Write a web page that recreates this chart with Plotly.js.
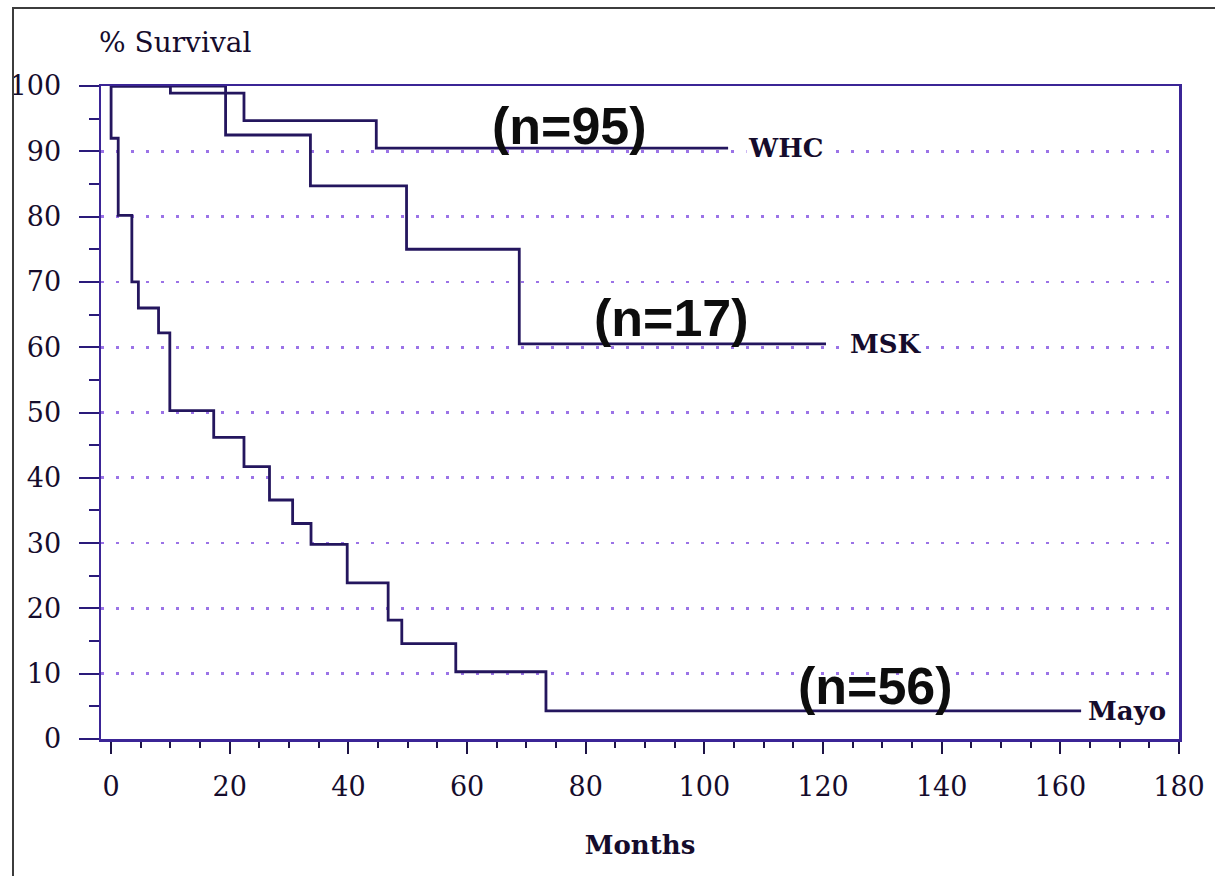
<!DOCTYPE html>
<html>
<head>
<meta charset="utf-8">
<script src="https://cdn.plot.ly/plotly-3.0.1.min.js"></script>
<style>
  html, body { margin: 0; padding: 0; background: #fff; }
  #chart { width: 1215px; height: 876px; }
  #frame { position: absolute; left: 12px; top: 7px; width: 1400px; height: 1000px;
           border-left: 2px solid #3c3c3c; border-top: 2px solid #3c3c3c; pointer-events: none; }
</style>
</head>
<body>
<div id="chart"></div>
<div id="frame"></div>
<script>
// ---- data ----
const whcMonths  = [0, 10, 22.4, 44.7, 104];
const whcSurv    = [100, 98.9, 94.7, 90.5, 90.5];

const mskMonths  = [0, 19.3, 33.6, 49.8, 68.8, 120.5];
const mskSurv    = [100, 92.5, 84.7, 75.0, 60.5, 60.5];

const mayoMonths = [0, 0, 1.2, 3.5, 4.6, 8.0, 9.9, 17.3, 22.4, 26.7, 30.6, 33.7, 39.8, 46.7, 49.0, 58.1, 73.3, 163.5];
const mayoSurv   = [100, 92, 80.2, 70.0, 66.0, 62.2, 50.3, 46.2, 41.7, 36.6, 33.0, 29.8, 23.9, 18.2, 14.6, 10.3, 4.3, 4.3];

const seriesNames  = ['WHC', 'MSK', 'Mayo'];
const seriesCounts = ['(n=95)', '(n=17)', '(n=56)'];
const nameLabelX   = [107, 124.2, 164.3];
const nameLabelY   = [90.5, 60.5, 4.3];
const countLabelX  = [77.3, 94.5, 128.9];
const countLabelY  = [93.9, 64.5, 8.1];

const xTickVals = [0, 20, 40, 60, 80, 100, 120, 140, 160, 180];
const yTickVals = [0, 10, 20, 30, 40, 50, 60, 70, 80, 90, 100];

// ---- styling ----
const curveColor = '#24165e';
const axisColor  = '#3b2596';
const textColor  = '#150c2c';
const serif = 'DejaVu Serif, Liberation Serif, serif';

function curve(x, y, name) {
  return { x: x, y: y, name: name, type: 'scatter', mode: 'lines',
           line: { shape: 'hv', color: curveColor, width: 2.8 },
           hoverinfo: 'x+y+name', showlegend: false };
}

const traces = [
  curve(whcMonths, whcSurv, seriesNames[0]),
  curve(mskMonths, mskSurv, seriesNames[1]),
  curve(mayoMonths, mayoSurv, seriesNames[2])
];

const annotations = [];
for (let i = 0; i < seriesNames.length; i++) {
  annotations.push({ x: nameLabelX[i], y: nameLabelY[i], xref: 'x', yref: 'y',
    text: seriesNames[i], showarrow: false, xanchor: 'left', yanchor: 'middle',
    bgcolor: '#ffffff', borderpad: 1,
    font: { family: serif, size: 26, color: textColor, weight: 'bold' } });
  annotations.push({ x: countLabelX[i], y: countLabelY[i], xref: 'x', yref: 'y',
    text: '<b>' + seriesCounts[i] + '</b>', showarrow: false, xanchor: 'center', yanchor: 'middle',
    font: { family: 'Liberation Sans, Arial, sans-serif', size: 52, color: '#0d0d0d' } });
}
annotations.push({ x: -0.004, y: 1.066, xref: 'paper', yref: 'paper',
  text: '% Survival', showarrow: false, xanchor: 'left', yanchor: 'middle',
  font: { family: serif, size: 28, color: textColor } });

const layout = {
  width: 1215, height: 876,
  margin: { l: 101, r: 36, t: 86, b: 137 },
  paper_bgcolor: '#ffffff', plot_bgcolor: '#ffffff',
  showlegend: false,
  xaxis: {
    range: [-1.7, 180], tickvals: xTickVals, ticktext: xTickVals.map(String),
    ticks: 'outside', ticklen: 12, tickwidth: 2, tickcolor: '#1e1446',
    minor: { dtick: 5, tick0: 0, ticks: 'outside', ticklen: 6, tickwidth: 2, tickcolor: '#1e1446', showgrid: false },
    showline: true, linecolor: axisColor, linewidth: 2.5, mirror: true,
    showgrid: false, zeroline: false,
    ticklabelstandoff: 10,
    tickfont: { family: serif, size: 27, color: textColor },
    title: { text: 'Months', standoff: 35, font: { family: serif, size: 26, color: textColor, weight: 'bold' } }
  },
  xaxis2: {
    overlaying: 'x', anchor: 'y', side: 'bottom',
    range: [-1.7, 180], tickvals: xTickVals, showticklabels: false,
    ticks: 'inside', ticklen: 12, tickwidth: 2, tickcolor: '#1e1446',
    showline: false, showgrid: false, zeroline: false
  },
  yaxis: {
    range: [0, 100], tickvals: yTickVals, ticktext: yTickVals.map(String),
    ticks: 'outside', ticklen: 20, tickwidth: 2, tickcolor: '#2a1a7a',
    minor: { dtick: 5, tick0: 0, ticks: 'outside', ticklen: 10, tickwidth: 2, tickcolor: '#2a1a7a', showgrid: false },
    showline: true, linecolor: axisColor, linewidth: 2.5, mirror: true,
    showgrid: true, gridcolor: 'rgba(130,80,225,0.8)', gridwidth: 2.6, griddash: '3px,12px',
    zeroline: false,
    ticklabelstandoff: 12,
    tickfont: { family: serif, size: 27, color: textColor }
  },
  annotations: annotations
};

Plotly.newPlot('chart', traces, layout, { displayModeBar: false, staticPlot: true });
</script>
</body>
</html>
